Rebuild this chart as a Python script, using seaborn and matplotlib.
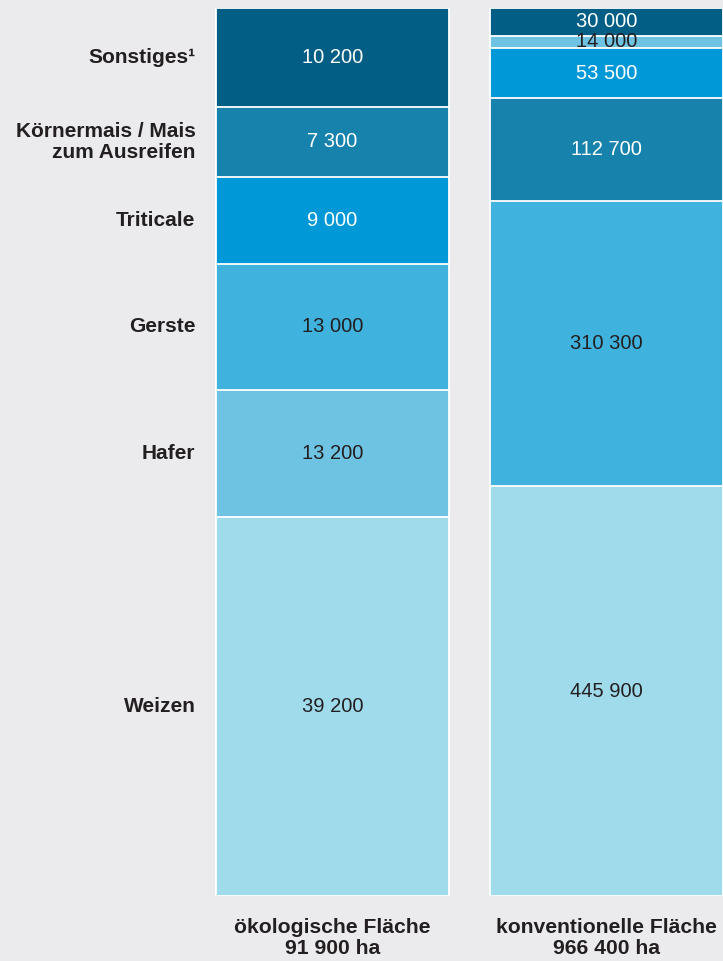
import numpy as np
import pandas as pd
import matplotlib.pyplot as plt
import seaborn as sns

# ─────────────────────────────────────────
# DATA (hectares, stacked bottom -> top)
# ─────────────────────────────────────────
bar_names = ["ökologische Fläche\n91 900 ha", "konventionelle Fläche\n966 400 ha"]

eco_cats = ["Weizen", "Hafer", "Gerste", "Triticale", "Körnermais", "Sonstiges"]
eco_vals = [39200, 13200, 13000, 9000, 7300, 10200]

conv_cats = ["Weizen", "Gerste", "Körnermais", "Triticale", "Hafer", "Sonstiges"]
conv_vals = [445900, 310300, 112700, 53500, 14000, 30000]

cat_labels = {
    "Weizen": "Weizen",
    "Hafer": "Hafer",
    "Gerste": "Gerste",
    "Triticale": "Triticale",
    "Körnermais": "Körnermais / Mais\nzum Ausreifen",
    "Sonstiges": "Sonstiges¹",
}

colors = {
    "Sonstiges": "#035E85",
    "Körnermais": "#1783AC",
    "Triticale": "#0098D6",
    "Gerste": "#3FB2DE",
    "Hafer": "#6EC3E3",
    "Weizen": "#A0DBEC",
}
dark_text = {"Gerste", "Hafer", "Weizen"}

bg = "#EBEBED"
ink = "#231F20"

# ─────────────────────────────────────────
# PREP: percent shares and cumulative tops
# ─────────────────────────────────────────
eco_pct = np.array(eco_vals) / sum(eco_vals) * 100
conv_pct = np.array(conv_vals) / sum(conv_vals) * 100
eco_top = np.cumsum(eco_pct)
conv_top = np.cumsum(conv_pct)

sns.set_theme(style="white")
plt.rcParams["font.family"] = ["Liberation Sans", "DejaVu Sans"]

fig = plt.figure(figsize=(7.23, 9.61), dpi=100, facecolor=bg)
ax = fig.add_axes([0, 65 / 961, 1, 888 / 961])
ax.set_facecolor(bg)

# draw tallest level first, smaller cumulative bars on top -> stacked look
for lvl in range(len(eco_cats) - 1, -1, -1):
    df = pd.DataFrame({"bar": bar_names, "top": [eco_top[lvl], conv_top[lvl]]})
    sns.barplot(
        data=df, x="bar", y="top", hue="bar",
        palette=[colors[eco_cats[lvl]], colors[conv_cats[lvl]]],
        width=0.85, dodge=False, legend=False, saturation=1,
        edgecolor="white", linewidth=1.3, ax=ax,
    )

# value labels inside segments
for xi, (cats, vals, pct, tops) in enumerate(
    [(eco_cats, eco_vals, eco_pct, eco_top), (conv_cats, conv_vals, conv_pct, conv_top)]
):
    for c, v, p, t in zip(cats, vals, pct, tops):
        txt = f"{v:,}".replace(",", " ")
        ax.text(xi, t - p / 2, txt, ha="center", va="center", fontsize=14.5,
                color=ink if c in dark_text else "white")

# category labels left of the first bar
for c, p, t in zip(eco_cats, eco_pct, eco_top):
    ax.text(-0.5, t - p / 2, cat_labels[c], ha="right", va="center",
            fontsize=15, fontweight="bold", color=ink, linespacing=1.15)

# bar names below
for xi, name in enumerate(bar_names):
    ax.text(xi, -4.75, name, ha="center", va="center", fontsize=15.2,
            fontweight="bold", color=ink, linespacing=1.12)

ax.set_xlim(-332.5 / 274, (723 - 332.5) / 274)
ax.set_ylim(0, 100)
ax.set_xlabel("")
ax.set_ylabel("")
ax.set_xticks([])
ax.set_yticks([])
sns.despine(ax=ax, left=True, bottom=True)

fig.savefig("out.png", dpi=100, facecolor=bg)
